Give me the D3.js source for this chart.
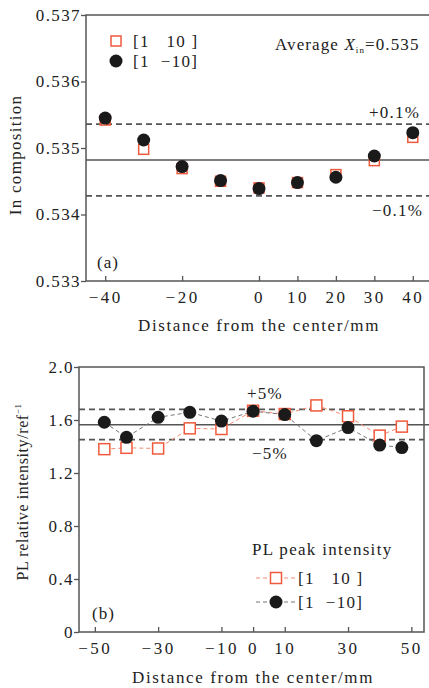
<!DOCTYPE html>
<html lang="en">
<head>
  <meta charset="UTF-8">
  <title>In composition and PL intensity vs distance</title>
  <script src="https://d3js.org/d3.v7.min.js"></script>
  <style>
    body
    {
      margin: 0;
      padding: 0;
      background-color: #fff;
    }
    svg text
    {
      font-family: "Liberation Serif", "Times New Roman", serif;
      fill: #222;
    }
    .tick text
    {
      font-size: 17px;
    }
    .xax .tick text { letter-spacing: 2.5px; }
    .yax .tick text { letter-spacing: 1.4px; }
  </style>
</head>
<body>
  <svg width="429" height="688"></svg>
  <script>
    // panel (a): In composition
    const posA = [-40, -30, -20, -10, 0, 10, 20, 30, 40];
    const inP10 = [0.53542, 0.53498, 0.53469, 0.5345, 0.5344, 0.53448, 0.5346, 0.53481, 0.53516];
    const inM10 = [0.53545, 0.53512, 0.53472, 0.53451, 0.53439, 0.53448, 0.53456, 0.53488, 0.53523];
    const inAvg = 0.53482, inHi = 0.53536, inLo = 0.53428;
    const xTicksA = [-40, -20, 0, 10, 20, 30, 40];
    const yTicksA = [0.533, 0.534, 0.535, 0.536, 0.537];

    // panel (b): PL peak intensity
    const posB = [-47, -40, -30, -20, -10, 0, 10, 20, 30, 40, 47];
    const plP10 = [1.38, 1.39, 1.385, 1.537, 1.532, 1.67, 1.645, 1.71, 1.628, 1.482, 1.55];
    const plM10 = [1.583, 1.469, 1.62, 1.658, 1.592, 1.666, 1.641, 1.444, 1.543, 1.411, 1.392];
    const plAvg = 1.565, plHi = 1.68, plLo = 1.452;
    const xTicksB = [-50, -30, -10, 0, 10, 30, 50];
    const yTicksB = [0, 0.4, 0.8, 1.2, 1.6, 2.0];

    const red = "#f05a3c";
    const dark = "#1a1a1a";
    const axisCol = "#555";
    const fs = 17;

    const svg = d3.select("svg");
    const fmtMinus = d => d < 0 ? "\u2212" + Math.abs(d) : String(d);

    function styleAxis(g) {
      g.select(".domain").remove();
      g.selectAll(".tick line").attr("stroke", axisCol).attr("stroke-width", 1.3);
    }

    function label(g, x, y, txt, ls) {
      return g.append("text").attr("x", x).attr("y", y).attr("font-size", fs)
        .attr("letter-spacing", ls).attr("xml:space", "preserve").text(txt);
    }

    // ---------- panel (a)
    const xA = d3.scaleLinear().domain([-45, 45]).range([86, 432]);
    const yA = d3.scaleLinear().domain([0.533, 0.537]).range([281, 15]);

    const gA = svg.append("g");

    gA.append("g").attr("class", "xax")
      .attr("transform", "translate(0,281)")
      .call(d3.axisBottom(xA).tickValues(xTicksA).tickSizeInner(-5).tickSizeOuter(0).tickPadding(10).tickFormat(fmtMinus))
      .call(styleAxis);

    gA.append("g").attr("class", "yax")
      .attr("transform", "translate(86,0)")
      .call(d3.axisLeft(yA).tickValues(yTicksA).tickSize(5).tickPadding(0).tickFormat(d3.format(".3f")))
      .call(styleAxis);

    // frame (right side falls outside the picture)
    gA.append("path")
      .attr("d", `M432,${yA(0.537)}H86V${yA(0.533)}H432`)
      .attr("fill", "none").attr("stroke", axisCol).attr("stroke-width", 1.5);

    gA.append("line")
      .attr("x1", 86).attr("x2", 432).attr("y1", yA(inAvg)).attr("y2", yA(inAvg))
      .attr("stroke", axisCol).attr("stroke-width", 1.5);
    [inHi, inLo].forEach(v => {
      gA.append("line")
        .attr("x1", 86).attr("x2", 432).attr("y1", yA(v)).attr("y2", yA(v))
        .attr("stroke", axisCol).attr("stroke-width", 1.8).attr("stroke-dasharray", "6,4");
    });

    gA.append("g").selectAll("rect")
      .data(posA.map((p, i) => [p, inP10[i]]))
      .enter().append("rect")
      .attr("x", d => xA(d[0]) - 5).attr("y", d => yA(d[1]) - 5)
      .attr("width", 10).attr("height", 10)
      .attr("fill", "none").attr("stroke", red).attr("stroke-width", 1.5);

    gA.append("g").selectAll("circle")
      .data(posA.map((p, i) => [p, inM10[i]]))
      .enter().append("circle")
      .attr("cx", d => xA(d[0])).attr("cy", d => yA(d[1]))
      .attr("r", 6.5).attr("fill", dark);

    // legend (a)
    gA.append("rect").attr("x", 111).attr("y", 36).attr("width", 10).attr("height", 10)
      .attr("fill", "none").attr("stroke", red).attr("stroke-width", 1.5);
    gA.append("circle").attr("cx", 116).attr("cy", 61).attr("r", 6.5).attr("fill", dark);
    label(gA, 133, 47, "[1   10 ]", 1.3);
    label(gA, 133, 67, "[1  \u221210]", 1.3);

    const avgText = gA.append("text").attr("x", 275).attr("y", 50).attr("font-size", fs).attr("letter-spacing", 1.1);
    avgText.append("tspan").text("Average ");
    avgText.append("tspan").attr("font-style", "italic").text("X");
    avgText.append("tspan").attr("font-size", 9).attr("dy", 3).text("in");
    avgText.append("tspan").attr("dy", -3).text("=0.535");

    label(gA, 369, 118, "+0.1%", 1.2);
    label(gA, 372, 216, "\u22120.1%", 1.2);
    label(gA, 97, 268, "(a)", 1);

    gA.append("text").attr("x", 259).attr("y", 331).attr("text-anchor", "middle")
      .attr("font-size", fs).attr("letter-spacing", 1.6).text("Distance from the center/mm");
    gA.append("text").attr("transform", "translate(21,155) rotate(-90)").attr("text-anchor", "middle")
      .attr("font-size", fs).attr("letter-spacing", 1.3).text("In composition");

    // ---------- panel (b)
    const xB = d3.scaleLinear().domain([-55, 54]).range([79, 424]);
    const yB = d3.scaleLinear().domain([0, 2]).range([632, 367]);

    const gB = svg.append("g");

    gB.append("g").attr("class", "xax")
      .attr("transform", "translate(0,632)")
      .call(d3.axisBottom(xB).tickValues(xTicksB).tickSizeInner(-5).tickSizeOuter(0).tickPadding(10).tickFormat(fmtMinus))
      .call(styleAxis);

    gB.append("g").attr("class", "yax")
      .attr("transform", "translate(79,0)")
      .call(d3.axisLeft(yB).tickValues(yTicksB).tickSize(5).tickPadding(0).tickFormat(d => d === 0 ? "0" : d3.format(".1f")(d)))
      .call(styleAxis);

    gB.append("rect").attr("x", 79).attr("y", 367).attr("width", 345).attr("height", 265)
      .attr("fill", "none").attr("stroke", axisCol).attr("stroke-width", 1.5);

    gB.append("line")
      .attr("x1", 79).attr("x2", 429).attr("y1", yB(plAvg)).attr("y2", yB(plAvg))
      .attr("stroke", axisCol).attr("stroke-width", 1.5);
    [plHi, plLo].forEach(v => {
      gB.append("line")
        .attr("x1", 79).attr("x2", 424).attr("y1", yB(v)).attr("y2", yB(v))
        .attr("stroke", axisCol).attr("stroke-width", 1.8).attr("stroke-dasharray", "6,4");
    });

    const line = d3.line().x(d => xB(d[0])).y(d => yB(d[1]));
    const ptsP = posB.map((p, i) => [p, plP10[i]]);
    const ptsM = posB.map((p, i) => [p, plM10[i]]);

    gB.append("path").datum(ptsP).attr("d", line)
      .attr("fill", "none").attr("stroke", "#f48a72").attr("stroke-width", 1).attr("stroke-dasharray", "4,3");
    gB.append("path").datum(ptsM).attr("d", line)
      .attr("fill", "none").attr("stroke", "#777").attr("stroke-width", 1).attr("stroke-dasharray", "4,3");

    gB.append("g").selectAll("rect")
      .data(ptsP)
      .enter().append("rect")
      .attr("x", d => xB(d[0]) - 5.5).attr("y", d => yB(d[1]) - 5.5)
      .attr("width", 11).attr("height", 11)
      .attr("fill", "#fff").attr("stroke", red).attr("stroke-width", 1.5);

    gB.append("g").selectAll("circle")
      .data(ptsM)
      .enter().append("circle")
      .attr("cx", d => xB(d[0])).attr("cy", d => yB(d[1]))
      .attr("r", 6.5).attr("fill", dark);

    label(gB, 247, 399, "+5%", 1.2);
    label(gB, 252, 459, "\u22125%", 1.2);
    label(gB, 252, 555, "PL peak intensity", 1.3);

    // legend (b)
    gB.append("line").attr("x1", 256).attr("x2", 296).attr("y1", 578).attr("y2", 578)
      .attr("stroke", "#f48a72").attr("stroke-width", 1).attr("stroke-dasharray", "4,3");
    gB.append("rect").attr("x", 270.5).attr("y", 572.5).attr("width", 11).attr("height", 11)
      .attr("fill", "#fff").attr("stroke", red).attr("stroke-width", 1.5);
    gB.append("line").attr("x1", 256).attr("x2", 296).attr("y1", 602).attr("y2", 602)
      .attr("stroke", "#777").attr("stroke-width", 1).attr("stroke-dasharray", "4,3");
    gB.append("circle").attr("cx", 276).attr("cy", 602).attr("r", 6.5).attr("fill", dark);
    label(gB, 298, 584, "[1   10 ]", 1.3);
    label(gB, 298, 608, "[1  \u221210]", 1.3);

    label(gB, 92, 619, "(b)", 1);

    gB.append("text").attr("x", 253).attr("y", 683).attr("text-anchor", "middle")
      .attr("font-size", fs).attr("letter-spacing", 1.6).text("Distance from the center/mm");

    const yLabB = gB.append("text").attr("transform", "translate(28,492) rotate(-90)").attr("text-anchor", "middle")
      .attr("font-size", 16).attr("letter-spacing", 0.6);
    yLabB.append("tspan").text("PL relative intensity/ref");
    yLabB.append("tspan").attr("font-size", 9).attr("dy", -7).text("\u22121");
  </script>
</body>
</html>
